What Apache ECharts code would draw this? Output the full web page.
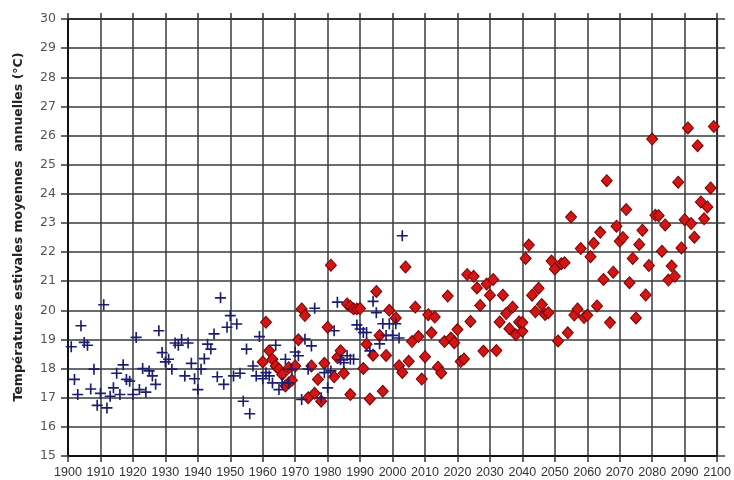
<!DOCTYPE html>
<html>
<head>
<meta charset="utf-8">
<script src="https://cdn.jsdelivr.net/npm/echarts@6/dist/echarts.min.js"></script>
<style>html,body{margin:0;padding:0;background:#fff;}#c{width:734px;height:480px;}</style>
</head>
<body>
<div id="c"></div>
<script>
// Observed series (blue crosses)
const blueYears = [1901,1902,1903,1904,1905,1906,1907,1908,1909,1910,1911,1912,1913,1914,1915,1916,1917,1918,1919,1920,
  1921,1922,1923,1924,1925,1926,1927,1928,1929,1930,1931,1932,1933,1934,1935,1936,1937,1938,1939,1940,
  1941,1942,1943,1944,1945,1946,1947,1948,1949,1950,1951,1952,1953,1954,1955,1956,1957,1958,1959,1960,
  1961,1962,1963,1964,1965,1966,1967,1968,1969,1970,1971,1972,1973,1974,1975,1976,1978,1979,1980,1981,
  1982,1983,1984,1985,1986,1987,1988,1989,1990,1991,1992,1993,1994,1995,1996,1997,1998,1999,2000,2001,2002,2003];
const blueTemps = [18.75,17.63,17.11,19.47,18.9,18.8,17.3,17.98,16.74,17.15,20.19,16.65,17.05,17.34,17.84,17.11,18.13,17.63,17.57,17.11,
  19.07,17.28,18.0,17.19,17.92,17.75,17.46,19.3,18.55,18.23,18.32,17.98,18.88,18.8,19.0,17.75,18.88,18.18,17.65,17.28,
  17.98,18.34,18.84,18.67,19.19,17.72,20.43,17.46,19.42,19.82,17.75,19.53,17.84,16.88,18.67,16.45,18.09,17.75,19.1,17.65,
  17.86,17.75,17.51,18.8,17.28,17.51,18.32,17.51,17.98,18.57,18.44,16.94,19.01,17.98,18.78,20.07,17.0,17.86,17.34,17.92,
  19.3,20.28,18.3,18.2,18.44,18.32,18.32,19.5,19.36,19.24,19.24,18.61,20.31,19.92,18.85,19.54,19.14,19.54,19.14,19.54,19.05,22.56];

// Simulated series (red diamonds)
const redYears = [1960,1961,1962,1963,1964,1965,1966,1967,1968,1968,1969,1970,1971,1972,1973,1974,1975,1976,1977,1978,1979,
  1980,1981,1982,1983,1984,1985,1986,1987,1987,1988,1989,1990,1991,1992,1993,1994,1995,1996,1997,1998,1999,
  2001,2002,2003,2004,2005,2006,2007,2008,2009,2010,2011,2012,2013,2014,2015,2016,2017,2018,2019,2020,
  2021,2022,2023,2024,2025,2026,2027,2028,2029,2030,2031,2032,2033,2034,2035,2036,2037,2038,2039,2040,2040,
  2041,2042,2043,2044,2045,2046,2047,2048,2049,2050,2051,2052,2053,2054,2055,2056,2057,2058,2059,2060,
  2061,2062,2063,2064,2065,2066,2067,2068,2069,2070,2071,2072,2073,2074,2075,2076,2077,2078,2079,2080,
  2081,2082,2083,2084,2085,2086,2087,2088,2089,2090,2091,2092,2093,2094,2095,2096,2097,2098,2099];
const redTemps = [18.23,19.59,18.61,18.32,18.09,17.98,17.8,17.4,17.51,18.03,17.6,18.09,18.99,20.05,19.82,17.0,18.09,17.15,17.63,16.88,18.18,
  19.42,21.55,17.72,18.38,18.61,17.84,20.22,20.14,17.11,20.05,20.05,20.06,18.0,18.84,16.96,18.46,20.65,19.14,17.22,18.45,20.0,
  19.74,18.1,17.87,21.49,18.25,18.93,20.11,19.1,17.64,18.41,19.85,19.23,19.77,18.05,17.85,18.93,20.49,19.05,18.89,19.34,
  18.24,18.33,21.23,19.62,21.17,20.77,20.17,18.6,20.9,20.52,21.06,18.62,19.6,20.52,19.89,19.37,20.11,19.16,19.6,19.28,19.58,
  21.78,22.24,20.52,19.95,20.76,20.2,19.86,19.92,21.69,21.42,18.95,21.6,21.63,19.23,23.2,19.84,20.05,22.12,19.75,19.83,
  21.84,22.3,20.15,22.68,21.06,24.45,19.58,21.31,22.89,22.37,22.5,23.46,20.95,21.78,19.74,22.26,22.75,20.53,21.54,25.88,
  23.26,23.25,22.03,22.93,21.04,21.52,21.17,24.4,22.14,23.11,26.26,22.98,22.51,25.65,23.72,23.14,23.55,24.2,26.31];

const yTitle = 'Températures estivales moyennes  annuelles (°C)';

const chart = echarts.init(document.getElementById('c'), null, {renderer: 'canvas'});
const plus = 'path://M8.5,0h3v8.5h8.5v3h-8.5v8.5h-3v-8.5h-8.5v-3h8.5z';
chart.setOption({
  backgroundColor: '#ffffff',
  animation: false,
  grid: {left: 68, right: 16, top: 19, bottom: 24, show: true, borderColor: '#111', borderWidth: 2, backgroundColor: 'transparent'},
  xAxis: [{
    type: 'value', min: 1900, max: 2100, interval: 10, position: 'bottom',
    axisLine: {show: true, onZero: false, lineStyle: {color: '#111', width: 2}},
    axisTick: {show: true, inside: false, length: 6, lineStyle: {color: '#333', width: 1.5}},
    axisLabel: {show: false},
    splitLine: {show: true, lineStyle: {color: '#3a3a3a', width: 1.5, type: 'solid'}}
  }, {
    type: 'value', min: 1900, max: 2100, interval: 10, position: 'bottom', offset: 0,
    axisLine: {show: false, onZero: false},
    axisTick: {show: false},
    splitLine: {show: false},
    axisLabel: {show: true, margin: 10, color: '#333', fontSize: 12.5, fontFamily: 'Liberation Sans',
      formatter: function (v) { return String(v); }}
  }, {
    type: 'value', min: 1900, max: 2100, interval: 10, position: 'top',
    axisLine: {show: false, onZero: false},
    axisTick: {show: true, inside: false, length: 6, lineStyle: {color: '#333', width: 1.5}},
    axisLabel: {show: false},
    splitLine: {show: false}
  }],
  yAxis: [{
    type: 'value', min: 15, max: 30, interval: 1,
    axisLine: {show: true, onZero: false, lineStyle: {color: '#111', width: 2}},
    axisTick: {show: true, inside: false, length: 7, lineStyle: {color: '#333', width: 1.5}},
    axisLabel: {show: true, margin: 12, color: '#555', fontSize: 12.5, fontFamily: 'DejaVu Sans'},
    splitLine: {show: true, lineStyle: {color: '#3a3a3a', width: 1.5, type: 'solid'}}
  }, {
    type: 'value', min: 15, max: 30, interval: 1, position: 'right',
    axisLine: {show: false, onZero: false},
    axisTick: {show: true, inside: false, length: 8, lineStyle: {color: '#444', width: 1.5}},
    axisLabel: {show: false},
    splitLine: {show: false}
  }],
  graphic: [{
    type: 'text',
    x: 19, y: 227,
    rotation: Math.PI / 2,
    style: {text: yTitle, fill: '#222', font: 'bold 12.5px "DejaVu Sans"', textAlign: 'center', textVerticalAlign: 'middle'}
  }],
  series: [{
    type: 'scatter', name: 'simulé', xAxisIndex: 0, yAxisIndex: 0,
    data: redYears.map((y, i) => [y, redTemps[i]]),
    symbol: 'diamond', symbolSize: [11, 12],
    itemStyle: {color: '#d21515', borderColor: '#7a0000', borderWidth: 1, opacity: 1}
  }, {
    type: 'scatter', name: 'observé', xAxisIndex: 0, yAxisIndex: 0,
    data: blueYears.map((y, i) => [y, blueTemps[i]]),
    symbol: plus, symbolSize: 11,
    itemStyle: {color: '#1c1c70', opacity: 1}
  }]
});
</script>
</body>
</html>
